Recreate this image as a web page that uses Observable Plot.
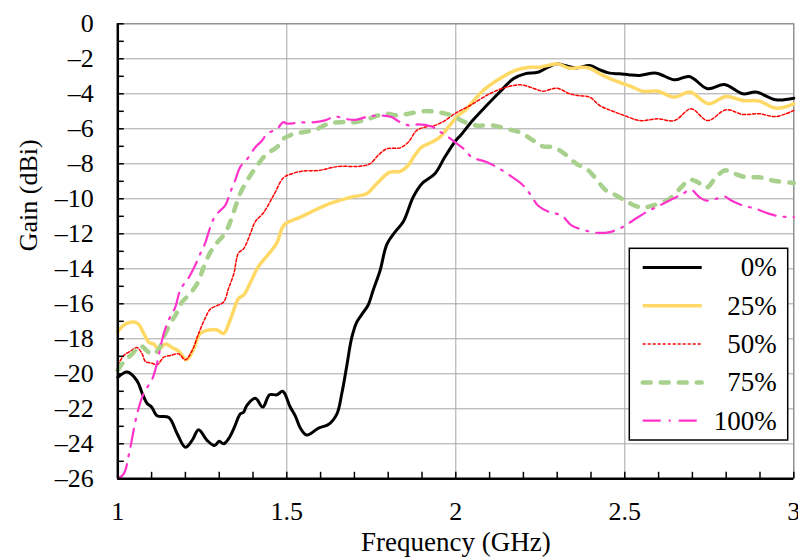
<!DOCTYPE html>
<html>
<head>
<meta charset="utf-8">
<script src="https://cdn.jsdelivr.net/npm/d3@7"></script>
<script src="https://cdn.jsdelivr.net/npm/@observablehq/plot@0.6"></script>
<style>
  html, body { margin: 0; padding: 0; background: #fff; }
  #chart { position: relative; width: 798px; height: 559px; }
  #chart svg.overlay { position: absolute; left: 0; top: 0; pointer-events: none; }
  #chart svg text { font-family: "Liberation Serif", "Times New Roman", Tinos, Times, "DejaVu Serif", serif; }
</style>
</head>
<body>
<div id="chart"></div>
<script>
// Measured antenna gain versus frequency for five fill levels.
const seriesNames = ["0%", "25%", "50%", "75%", "100%"];

const freq0 = [1.000,1.028,1.057,1.072,1.087,1.100,1.116,1.151,1.175,1.200,1.220,1.239,1.264,1.286,1.300,1.313,1.328,1.345,1.362,1.372,1.382,1.407,1.429,1.449,1.471,1.488,1.510,1.525,1.540,1.559,1.594,1.623,1.648,1.663,1.677,1.692,1.707,1.722,1.740,1.756,1.776,1.796,1.820,1.845,1.874,1.899,1.938,1.968,2.000,2.013,2.051,2.091,2.130,2.170,2.204,2.243,2.273,2.298,2.322,2.357,2.396,2.426,2.455,2.485,2.514,2.544,2.593,2.647,2.691,2.745,2.795,2.849,2.888,2.947,3.000];
const gain0 = [-20.2,-19.9,-20.4,-21.1,-21.7,-21.9,-22.4,-22.5,-23.4,-24.2,-23.8,-23.2,-23.8,-24.1,-23.85,-24.0,-23.7,-23.05,-22.3,-22.2,-21.8,-21.4,-21.9,-21.2,-21.2,-21.0,-21.9,-22.4,-23.1,-23.5,-23.1,-22.9,-22.3,-21.1,-19.6,-17.95,-17.05,-16.6,-16.1,-15.2,-14.1,-12.6,-11.9,-11.3,-9.9,-9.15,-8.57,-7.6,-6.67,-6.4,-5.5,-4.67,-3.9,-3.14,-2.86,-2.77,-2.48,-2.29,-2.38,-2.52,-2.38,-2.63,-2.82,-2.86,-2.92,-2.95,-2.82,-3.2,-3.01,-3.71,-3.47,-4.0,-3.9,-4.34,-4.25];

const freq25 = [1.000,1.023,1.057,1.077,1.092,1.106,1.121,1.141,1.161,1.180,1.203,1.224,1.244,1.269,1.294,1.313,1.333,1.357,1.372,1.392,1.412,1.431,1.451,1.471,1.492,1.540,1.623,1.692,1.737,1.766,1.805,1.835,1.859,1.879,1.899,1.928,1.953,1.978,2.007,2.027,2.081,2.130,2.174,2.219,2.249,2.278,2.302,2.337,2.371,2.396,2.435,2.475,2.514,2.553,2.598,2.647,2.693,2.748,2.800,2.849,2.898,2.947,3.000];
const gain25 = [-17.6,-17.15,-17.1,-17.7,-18.2,-18.3,-18.6,-18.3,-18.5,-18.7,-19.2,-18.6,-17.7,-17.5,-17.5,-17.7,-16.9,-15.7,-15.5,-14.8,-14.0,-13.5,-13.05,-12.5,-11.5,-11.05,-10.3,-9.9,-9.7,-9.14,-8.48,-8.44,-8.1,-7.5,-7.05,-6.77,-6.48,-5.9,-5.24,-4.95,-3.81,-3.14,-2.67,-2.48,-2.48,-2.35,-2.29,-2.54,-2.48,-2.54,-2.95,-3.28,-3.55,-3.85,-3.85,-4.19,-3.9,-4.57,-4.15,-4.38,-4.42,-4.82,-4.57];

const freq50 = [1.000,1.018,1.038,1.057,1.072,1.082,1.102,1.116,1.136,1.156,1.180,1.200,1.220,1.239,1.259,1.274,1.294,1.313,1.328,1.343,1.357,1.372,1.392,1.407,1.431,1.461,1.490,1.510,1.545,1.594,1.653,1.712,1.746,1.771,1.796,1.835,1.859,1.884,1.909,1.938,1.968,2.000,2.042,2.100,2.150,2.194,2.229,2.258,2.298,2.337,2.362,2.396,2.426,2.465,2.500,2.544,2.598,2.647,2.696,2.745,2.800,2.849,2.898,2.947,3.000];
const gain50 = [-19.5,-18.95,-18.7,-18.5,-18.86,-19.3,-19.4,-19.5,-19.05,-18.95,-18.86,-19.2,-18.67,-17.7,-16.8,-16.3,-16.1,-15.9,-15.1,-14.3,-13.1,-12.86,-12.0,-11.3,-10.8,-9.8,-8.8,-8.6,-8.42,-8.38,-8.15,-8.15,-8.0,-7.5,-7.14,-7.09,-6.77,-6.1,-5.9,-5.81,-5.53,-5.1,-4.67,-4.0,-3.62,-3.49,-3.68,-3.85,-3.68,-4.0,-4.1,-4.19,-4.67,-5.0,-5.25,-5.53,-5.43,-5.53,-4.86,-5.53,-4.91,-5.18,-5.14,-5.3,-4.95];

const freq75 = [1.000,1.018,1.043,1.067,1.087,1.102,1.121,1.136,1.156,1.175,1.190,1.215,1.239,1.254,1.274,1.294,1.318,1.335,1.362,1.392,1.416,1.441,1.471,1.490,1.515,1.540,1.584,1.623,1.663,1.702,1.741,1.791,1.830,1.869,1.909,1.948,1.988,2.027,2.061,2.110,2.150,2.189,2.229,2.258,2.288,2.322,2.357,2.387,2.411,2.445,2.475,2.500,2.549,2.583,2.632,2.667,2.691,2.716,2.741,2.770,2.795,2.820,2.859,2.898,2.937,3.000];
const gain75 = [-19.8,-19.3,-18.86,-18.4,-18.7,-18.9,-18.6,-17.9,-17.1,-16.5,-15.9,-15.4,-14.7,-13.9,-13.05,-12.5,-11.95,-11.2,-9.7,-8.67,-8.0,-7.43,-7.05,-6.57,-6.33,-6.22,-6.06,-5.71,-5.62,-5.62,-5.43,-5.14,-5.24,-5.1,-4.99,-5.05,-5.24,-5.62,-5.81,-5.81,-6.0,-6.19,-6.67,-7.01,-7.05,-7.43,-8.0,-8.29,-8.77,-9.53,-9.81,-10.1,-10.5,-10.38,-10.0,-9.34,-8.91,-9.05,-9.37,-8.77,-8.38,-8.53,-8.77,-8.77,-8.95,-9.1];

const freq100 = [1.000,1.018,1.033,1.057,1.077,1.102,1.116,1.126,1.136,1.151,1.170,1.185,1.210,1.229,1.244,1.259,1.274,1.289,1.303,1.318,1.333,1.348,1.362,1.387,1.407,1.427,1.441,1.471,1.490,1.500,1.540,1.584,1.613,1.643,1.672,1.702,1.741,1.781,1.810,1.835,1.864,1.889,1.928,1.948,1.978,2.000,2.027,2.047,2.091,2.125,2.160,2.194,2.219,2.243,2.278,2.313,2.342,2.376,2.416,2.455,2.490,2.524,2.563,2.603,2.642,2.671,2.696,2.721,2.741,2.770,2.795,2.815,2.849,2.888,2.928,2.957,3.000];
const gain100 = [-26.0,-25.7,-24.6,-22.3,-21.1,-20.3,-19.4,-18.5,-17.7,-16.9,-16.2,-15.2,-14.5,-13.8,-13.14,-12.5,-11.6,-10.95,-10.67,-10.38,-9.62,-8.9,-8.19,-7.62,-7.05,-6.67,-6.29,-6.0,-5.62,-5.7,-5.64,-5.62,-5.52,-5.3,-5.43,-5.49,-5.3,-5.24,-5.33,-5.62,-5.81,-5.75,-5.87,-6.1,-6.48,-6.8,-7.2,-7.62,-7.9,-8.23,-8.67,-9.14,-9.71,-10.38,-10.77,-10.95,-11.52,-11.77,-11.94,-11.9,-11.65,-11.24,-10.77,-10.38,-10.0,-9.71,-9.49,-9.91,-10.1,-10.0,-9.87,-10.1,-10.38,-10.57,-10.86,-11.0,-11.05];

// Axis ticks and labels
const xTicks = [1, 1.5, 2, 2.5, 3];
const xTickLabels = ["1", "1.5", "2", "2.5", "3"];
const xMinorTicks = d3.range(0, 21).map(i => 1 + i / 10);
const yTicks = d3.range(0, 14).map(i => -2 * i);
const yMinorTicks = d3.range(0, 27).map(i => -i);

// Line styles, one per series
const seriesStyles = [
  {stroke: "#000000", strokeWidth: 3},
  {stroke: "#FFD966", strokeWidth: 3.5},
  {stroke: "#FF0000", strokeWidth: 1.5, strokeDasharray: "3,2"},
  {stroke: "#A9D18E", strokeWidth: 4.5, strokeDasharray: "8,10", strokeLinecap: "round"},
  {stroke: "#FF33CC", strokeWidth: 2.2, strokeDasharray: "18,8,2,8"}
];

const freqs = [freq0, freq25, freq50, freq75, freq100];
const gains = [gain0, gain25, gain50, gain75, gain100];
const series = seriesNames.map((name, i) => ({
  name,
  style: seriesStyles[i],
  points: freqs[i].map((f, j) => ({f, g: gains[i][j]}))
}));

const serif = "Liberation Serif, Times New Roman, Tinos, Times, DejaVu Serif, serif";
const fmtY = d => d === 0 ? "0" : "\u2013" + Math.abs(d);

const chart = Plot.plot({
  width: 798,
  height: 559,
  marginLeft: 117.3,
  marginRight: 4.7,
  marginTop: 23.3,
  marginBottom: 80.7,
  x: {domain: [1, 3], label: null},
  y: {domain: [-26, 0], label: null},
  style: {fontFamily: serif, fontSize: "26px", color: "#000", background: "#fff", overflow: "visible"},
  marks: [
    Plot.gridY(yTicks, {stroke: "#a6a6a6", strokeOpacity: 1, strokeWidth: 1}),
    Plot.gridX(xTicks, {stroke: "#a6a6a6", strokeOpacity: 1, strokeWidth: 1}),
    Plot.frame({stroke: "#7f7f7f", strokeWidth: 1}),
    ...series.map(s => Plot.line(s.points, {x: "f", y: "g", curve: "catmull-rom", ...s.style})),
    Plot.ruleX([1], {stroke: "#000", strokeWidth: 2.5}),
    Plot.ruleY([-26], {stroke: "#000", strokeWidth: 2.5}),
    Plot.axisX({ticks: xMinorTicks, tickSize: -6.5, tickFormat: () => "", strokeWidth: 1.5, label: null}),
    Plot.axisY({ticks: yMinorTicks, tickSize: -6.5, tickFormat: () => "", strokeWidth: 1.5, label: null}),
    Plot.axisX({ticks: xTicks, tickSize: 0, tickPadding: 23, tickFormat: d => xTickLabels[xTicks.indexOf(d)], label: null, fontSize: 26}),
    Plot.axisY({ticks: yTicks, tickSize: 0, tickPadding: 24, tickFormat: fmtY, label: null, fontSize: 26}),
    Plot.text(["Frequency (GHz)"], {frameAnchor: "bottom", dy: 72, fontSize: 27, fill: "#000"}),
    Plot.text(["Gain (dBi)"], {frameAnchor: "left", dx: -89, rotate: -90, fontSize: 26, fill: "#000"})
  ]
});

const root = document.getElementById("chart");
root.appendChild(chart);

// Legend box drawn over the plot's lower right corner
const overlay = d3.select(root).append("svg")
  .attr("class", "overlay")
  .attr("width", 798)
  .attr("height", 559);
const lg = overlay.append("g").attr("transform", "translate(629.3,248.3)");
lg.append("rect")
  .attr("width", 158.4).attr("height", 191.7)
  .attr("fill", "#fff").attr("stroke", "#000").attr("stroke-width", 1.5);
series.forEach((s, i) => {
  const y = 19.2 + i * 38.3;
  lg.append("line")
    .attr("x1", 13.4).attr("x2", 72.4).attr("y1", y).attr("y2", y)
    .attr("stroke", s.style.stroke)
    .attr("stroke-width", s.style.strokeWidth)
    .attr("stroke-dasharray", s.style.strokeDasharray || null)
    .attr("stroke-linecap", s.style.strokeLinecap || null);
  lg.append("text")
    .attr("x", 147.4).attr("y", y + 9)
    .attr("text-anchor", "end")
    .attr("font-size", 27)
    .text(s.name);
});
</script>
</body>
</html>
